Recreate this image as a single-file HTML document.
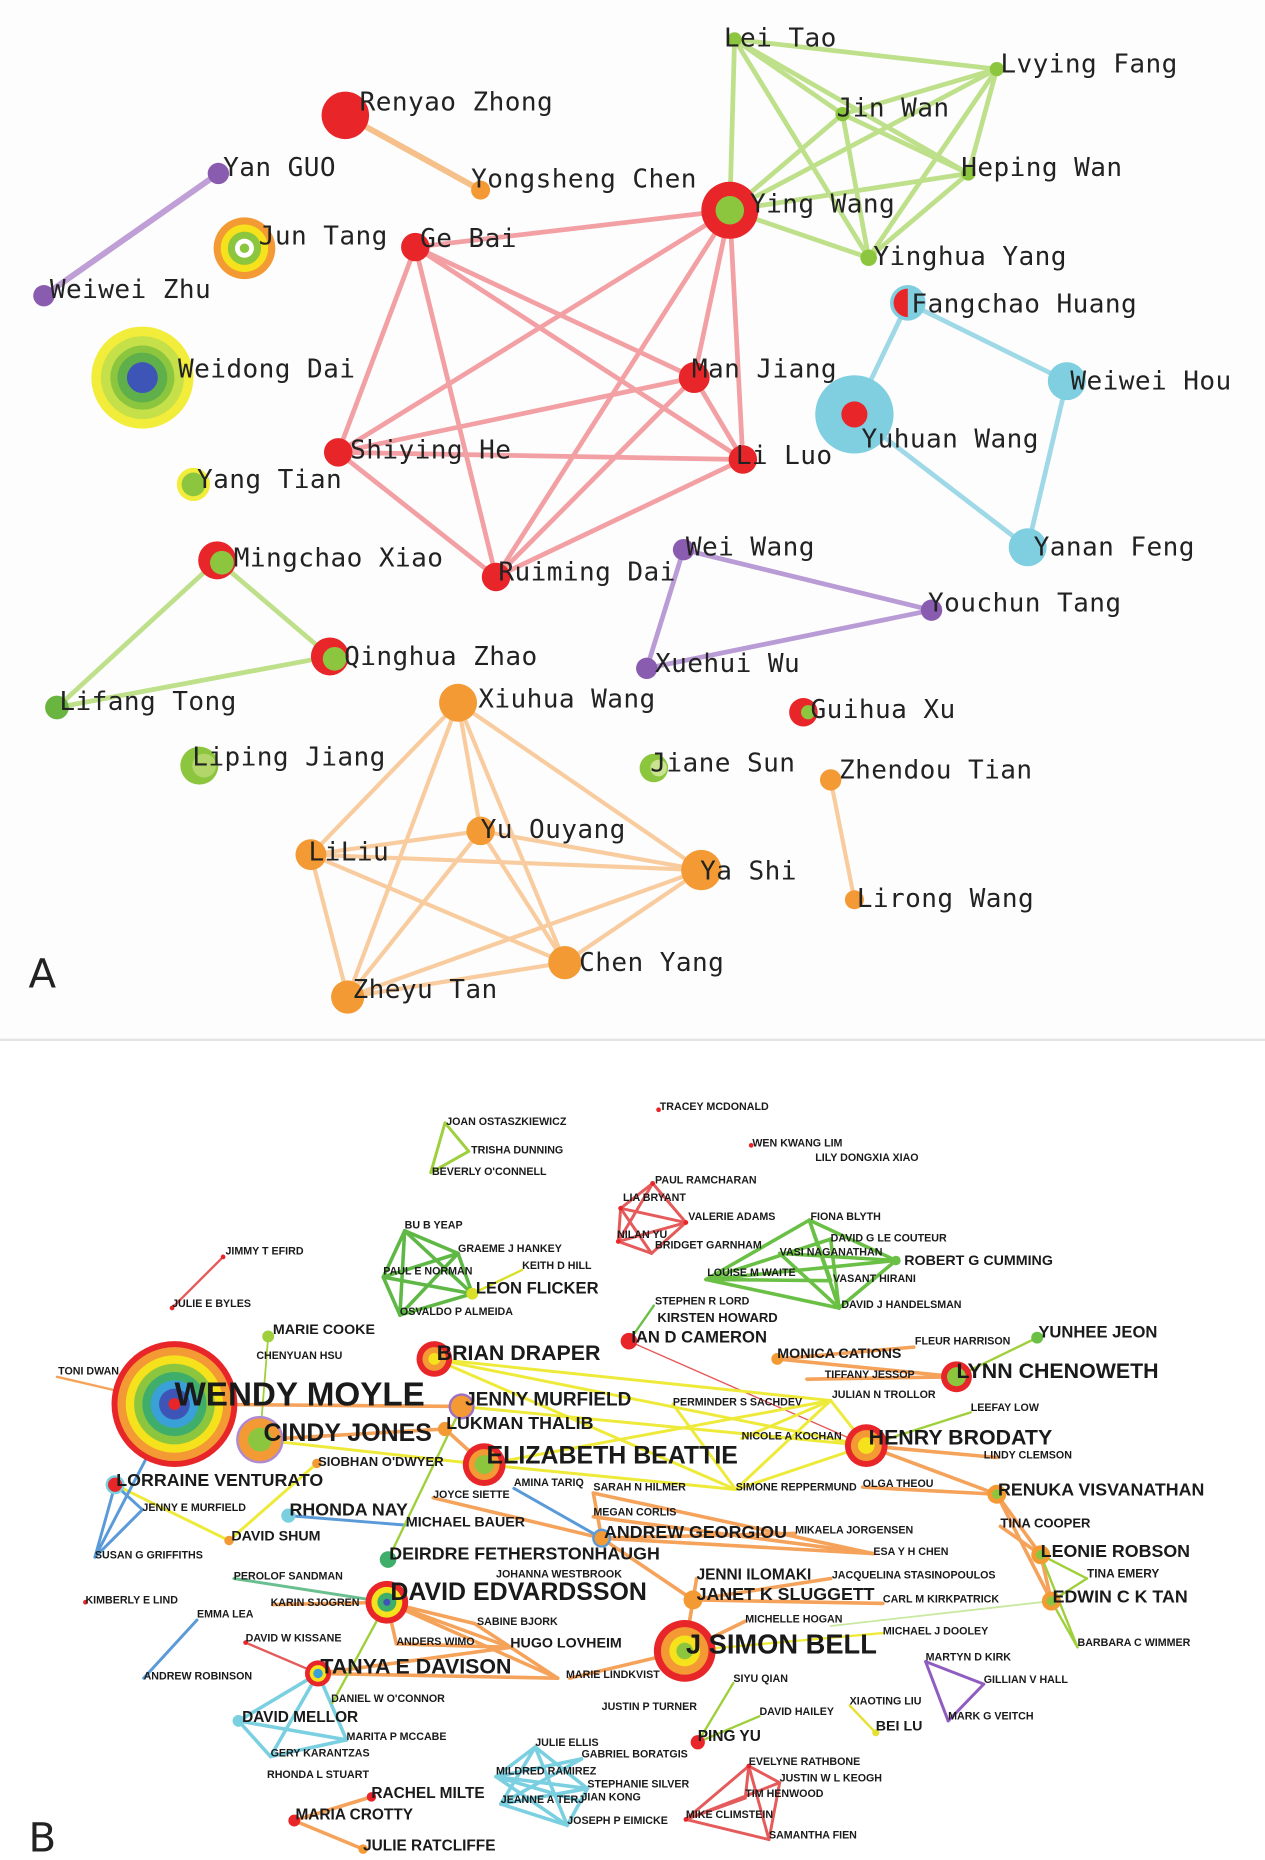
<!DOCTYPE html>
<html><head><meta charset="utf-8">
<style>
html,body{margin:0;padding:0;background:#fff}
svg{display:block}
.a{font-family:"DejaVu Sans Mono","Liberation Mono",monospace;font-size:22px;letter-spacing:0.35px;fill:#222}
.b{font-family:"Liberation Sans Narrow","Liberation Sans",sans-serif;font-weight:bold;fill:#1a1a1a}
.s{font-size:9px}.m{font-size:14px}.l{font-size:18px}.x{font-size:21px}
</style></head><body>
<svg width="1265" height="1860" viewBox="0 0 1066 1567" xmlns="http://www.w3.org/2000/svg">
<rect x="0" y="0" width="1066" height="876" fill="#fdfdfd"/>
<line x1="0" y1="876" x2="1066" y2="876" stroke="#e4e4e4" stroke-width="2"/>
<!-- Panel A edges -->
<g stroke-linecap="round" fill="none">
<line x1="291" y1="97" x2="405" y2="160" stroke="#f6c08a" stroke-width="5"/>
<line x1="184" y1="146" x2="37" y2="249" stroke="#bf9fd6" stroke-width="5"/>
<g stroke="#bfe08a" stroke-width="4">
<line x1="619" y1="33" x2="840" y2="58"/><line x1="619" y1="33" x2="710" y2="96"/><line x1="619" y1="33" x2="816" y2="146"/><line x1="619" y1="33" x2="732" y2="217"/><line x1="619" y1="33" x2="615" y2="177"/>
<line x1="840" y1="58" x2="710" y2="96"/><line x1="840" y1="58" x2="816" y2="146"/><line x1="840" y1="58" x2="732" y2="217"/><line x1="840" y1="58" x2="615" y2="177"/>
<line x1="710" y1="96" x2="816" y2="146"/><line x1="710" y1="96" x2="732" y2="217"/><line x1="710" y1="96" x2="615" y2="177"/>
<line x1="816" y1="146" x2="732" y2="217"/><line x1="816" y1="146" x2="615" y2="177"/><line x1="732" y1="217" x2="615" y2="177"/>
</g>
<g stroke="#f2a0a4" stroke-width="4">
<line x1="615" y1="177" x2="350" y2="208"/><line x1="615" y1="177" x2="585" y2="318"/><line x1="615" y1="177" x2="285" y2="381"/><line x1="615" y1="177" x2="626" y2="387"/><line x1="615" y1="177" x2="418" y2="486"/>
<line x1="350" y1="208" x2="585" y2="318"/><line x1="350" y1="208" x2="285" y2="381"/><line x1="350" y1="208" x2="626" y2="387"/><line x1="350" y1="208" x2="418" y2="486"/>
<line x1="585" y1="318" x2="285" y2="381"/><line x1="585" y1="318" x2="626" y2="387"/><line x1="585" y1="318" x2="418" y2="486"/>
<line x1="285" y1="381" x2="626" y2="387"/><line x1="285" y1="381" x2="418" y2="486"/><line x1="626" y1="387" x2="418" y2="486"/>
</g>
<g stroke="#9fd8e6" stroke-width="4">
<line x1="765" y1="255" x2="899" y2="321"/><line x1="765" y1="255" x2="720" y2="349"/><line x1="720" y1="349" x2="866" y2="461"/><line x1="899" y1="321" x2="866" y2="461"/>
</g>
<g stroke="#b99bd6" stroke-width="4">
<line x1="576" y1="463" x2="785" y2="514"/><line x1="576" y1="463" x2="545" y2="563"/><line x1="545" y1="563" x2="785" y2="514"/>
</g>
<g stroke="#bfe08a" stroke-width="4">
<line x1="183" y1="472" x2="48" y2="596"/><line x1="183" y1="472" x2="278" y2="553"/><line x1="278" y1="553" x2="48" y2="596"/>
</g>
<g stroke="#f8cc9e" stroke-width="3.5">
<line x1="386" y1="592" x2="262" y2="720"/><line x1="386" y1="592" x2="405" y2="700"/><line x1="386" y1="592" x2="591" y2="733"/><line x1="386" y1="592" x2="476" y2="811"/><line x1="386" y1="592" x2="293" y2="840"/>
<line x1="262" y1="720" x2="405" y2="700"/><line x1="262" y1="720" x2="591" y2="733"/><line x1="262" y1="720" x2="476" y2="811"/><line x1="262" y1="720" x2="293" y2="840"/>
<line x1="405" y1="700" x2="591" y2="733"/><line x1="405" y1="700" x2="476" y2="811"/><line x1="405" y1="700" x2="293" y2="840"/>
<line x1="591" y1="733" x2="476" y2="811"/><line x1="591" y1="733" x2="293" y2="840"/><line x1="476" y1="811" x2="293" y2="840"/>
<line x1="700" y1="657" x2="720" y2="758"/>
</g>
</g>
<!-- Panel A nodes -->
<circle cx="291" cy="97" r="20" fill="#e8262a"/>
<circle cx="405" cy="160" r="8" fill="#f39a34"/>
<circle cx="184" cy="146" r="9" fill="#8a5cb0"/>
<circle cx="37" cy="249" r="9" fill="#8a5cb0"/>
<circle cx="206" cy="209" r="26" fill="#f39a34"/><circle cx="206" cy="209" r="20" fill="#f5e21c"/><circle cx="206" cy="209" r="14" fill="#8cc63f"/><circle cx="206" cy="209" r="8" fill="#fff"/><circle cx="206" cy="209" r="4" fill="#8cc63f"/>
<circle cx="120" cy="318" r="43" fill="#f2ec3a"/><circle cx="120" cy="318" r="35" fill="#c6e04a"/><circle cx="120" cy="318" r="27" fill="#8cc63f"/><circle cx="120" cy="318" r="21" fill="#5fb04a"/><circle cx="120" cy="318" r="13" fill="#3e55b8"/>
<circle cx="350" cy="208" r="12" fill="#e8262a"/>
<circle cx="615" cy="177" r="24" fill="#e8262a"/><circle cx="615" cy="177" r="12" fill="#8cc63f"/>
<circle cx="619" cy="33" r="6" fill="#8cc63f"/><circle cx="840" cy="58" r="6" fill="#8cc63f"/><circle cx="710" cy="96" r="6" fill="#8cc63f"/><circle cx="816" cy="146" r="6" fill="#8cc63f"/><circle cx="732" cy="217" r="7" fill="#8cc63f"/>
<circle cx="765" cy="255" r="15" fill="#7fcfe0"/><path d="M765 243 A12 12 0 0 0 765 267 Z" fill="#e8262a"/>
<circle cx="899" cy="321" r="16" fill="#7fcfe0"/>
<circle cx="720" cy="349" r="33" fill="#7fcfe0"/><circle cx="720" cy="349" r="11" fill="#e8262a"/>
<circle cx="866" cy="461" r="16" fill="#7fcfe0"/>
<circle cx="585" cy="318" r="13" fill="#e8262a"/>
<circle cx="285" cy="381" r="12" fill="#e8262a"/>
<circle cx="626" cy="387" r="12" fill="#e8262a"/>
<circle cx="163" cy="408" r="14" fill="#f2ec3a"/><circle cx="163" cy="408" r="10" fill="#8cc63f"/>
<circle cx="183" cy="472" r="16" fill="#e8262a"/><circle cx="187" cy="474" r="10" fill="#8cc63f"/>
<circle cx="418" cy="486" r="12" fill="#e8262a"/>
<circle cx="576" cy="463" r="9" fill="#8a5cb0"/><circle cx="785" cy="514" r="9" fill="#8a5cb0"/><circle cx="545" cy="563" r="9" fill="#8a5cb0"/>
<circle cx="278" cy="553" r="16" fill="#e8262a"/><circle cx="282" cy="555" r="10" fill="#8cc63f"/>
<circle cx="48" cy="596" r="10" fill="#6ab440"/>
<circle cx="386" cy="592" r="16" fill="#f39a34"/>
<circle cx="168" cy="645" r="16" fill="#8cc63f"/><circle cx="172" cy="645" r="10" fill="#b2d66a"/>
<circle cx="677" cy="600" r="12" fill="#e8262a"/><circle cx="681" cy="600" r="6" fill="#8cc63f"/>
<circle cx="551" cy="647" r="12" fill="#8cc63f"/><circle cx="555" cy="647" r="7" fill="#c9e38f"/>
<circle cx="700" cy="657" r="9" fill="#f39a34"/>
<circle cx="405" cy="700" r="12" fill="#f39a34"/><circle cx="262" cy="720" r="13" fill="#f39a34"/><circle cx="591" cy="733" r="17" fill="#f39a34"/><circle cx="476" cy="811" r="14" fill="#f39a34"/><circle cx="293" cy="840" r="14" fill="#f39a34"/><circle cx="720" cy="758" r="8" fill="#f39a34"/>
<!-- Panel A labels -->
<g class="a">
<text x="303" y="93">Renyao Zhong</text><text x="397" y="158">Yongsheng Chen</text><text x="188" y="148">Yan GUO</text><text x="42" y="251">Weiwei Zhu</text>
<text x="218" y="206">Jun Tang</text><text x="150" y="318">Weidong Dai</text><text x="354" y="208">Ge Bai</text><text x="632" y="179">Ying Wang</text>
<text x="610" y="39">Lei Tao</text><text x="843" y="61">Lvying Fang</text><text x="705" y="98">Jin Wan</text><text x="810" y="148">Heping Wan</text><text x="736" y="223">Yinghua Yang</text>
<text x="768" y="263">Fangchao Huang</text><text x="902" y="328">Weiwei Hou</text><text x="726" y="377">Yuhuan Wang</text><text x="871" y="468">Yanan Feng</text>
<text x="583" y="318">Man Jiang</text><text x="295" y="386">Shiying He</text><text x="620" y="391">Li Luo</text><text x="166" y="411">Yang Tian</text>
<text x="197" y="477">Mingchao Xiao</text><text x="420" y="489">Ruiming Dai</text><text x="578" y="468">Wei Wang</text><text x="782" y="515">Youchun Tang</text>
<text x="552" y="566">Xuehui Wu</text><text x="290" y="560">Qinghua Zhao</text><text x="50" y="598">Lifang Tong</text><text x="403" y="596">Xiuhua Wang</text>
<text x="162" y="645">Liping Jiang</text><text x="683" y="605">Guihua Xu</text><text x="548" y="650">Jiane Sun</text><text x="707" y="656">Zhendou Tian</text>
<text x="405" y="706">Yu Ouyang</text><text x="260" y="725">LiLiu</text><text x="590" y="741">Ya Shi</text><text x="488" y="818">Chen Yang</text><text x="297" y="841">Zheyu Tan</text><text x="722" y="764">Lirong Wang</text>
</g>
<text x="24" y="832" font-family="DejaVu Sans,Liberation Sans,sans-serif" font-size="34" fill="#222">A</text>

<!-- Panel B edges -->
<g stroke-linecap="round" fill="none">
<g stroke="#9fcf3a" stroke-width="2.5"><line x1="375" y1="946" x2="395" y2="970"/><line x1="375" y1="946" x2="363" y2="988"/><line x1="395" y1="970" x2="363" y2="988"/></g>
<g stroke="#e55a5a" stroke-width="2.5"><line x1="550" y1="997" x2="523" y2="1018"/><line x1="550" y1="997" x2="578" y2="1030"/><line x1="523" y1="1018" x2="578" y2="1030"/><line x1="523" y1="1018" x2="521" y2="1046"/><line x1="523" y1="1018" x2="549" y2="1056"/><line x1="578" y1="1030" x2="521" y2="1046"/><line x1="578" y1="1030" x2="549" y2="1056"/><line x1="521" y1="1046" x2="549" y2="1056"/><line x1="550" y1="997" x2="521" y2="1046"/></g>
<g stroke="#6abf45" stroke-width="3"><line x1="682" y1="1028" x2="755" y2="1062"/><line x1="682" y1="1028" x2="595" y2="1078"/><line x1="682" y1="1028" x2="707" y2="1102"/><line x1="682" y1="1028" x2="700" y2="1079"/><line x1="755" y1="1062" x2="595" y2="1078"/><line x1="755" y1="1062" x2="707" y2="1102"/><line x1="755" y1="1062" x2="657" y2="1056"/><line x1="595" y1="1078" x2="707" y2="1102"/><line x1="595" y1="1078" x2="700" y2="1079"/><line x1="657" y1="1056" x2="707" y2="1102"/><line x1="700" y1="1044" x2="595" y2="1078"/><line x1="700" y1="1044" x2="707" y2="1102"/></g>
<g stroke="#5fb845" stroke-width="3"><line x1="341" y1="1037" x2="323" y2="1076"/><line x1="341" y1="1037" x2="398" y2="1090"/><line x1="341" y1="1037" x2="337" y2="1108"/><line x1="341" y1="1037" x2="386" y2="1056"/><line x1="323" y1="1076" x2="398" y2="1090"/><line x1="323" y1="1076" x2="337" y2="1108"/><line x1="386" y1="1056" x2="398" y2="1090"/><line x1="386" y1="1056" x2="337" y2="1108"/><line x1="398" y1="1090" x2="337" y2="1108"/><line x1="386" y1="1056" x2="323" y2="1076"/></g>
<line x1="398" y1="1090" x2="440" y2="1070" stroke="#d8e02a" stroke-width="2"/>
<line x1="188" y1="1059" x2="145" y2="1102" stroke="#e55a5a" stroke-width="2"/>
<line x1="551" y1="1100" x2="530" y2="1130" stroke="#6abf45" stroke-width="2"/>
<line x1="530" y1="1130" x2="730" y2="1218" stroke="#e55a5a" stroke-width="1.2"/>
<line x1="226" y1="1126" x2="219" y2="1213" stroke="#9fcf3a" stroke-width="1.5"/>
<line x1="48" y1="1160" x2="147" y2="1183" stroke="#f5a25a" stroke-width="2"/>
<g stroke="#eeea3a" stroke-width="2.5">
<line x1="366" y1="1145" x2="730" y2="1218"/><line x1="366" y1="1145" x2="700" y2="1180"/><line x1="366" y1="1145" x2="620" y2="1255"/><line x1="408" y1="1234" x2="700" y2="1180"/><line x1="408" y1="1234" x2="620" y2="1255"/><line x1="700" y1="1180" x2="620" y2="1255"/><line x1="700" y1="1180" x2="730" y2="1218"/><line x1="620" y1="1255" x2="730" y2="1218"/><line x1="567" y1="1183" x2="620" y2="1255"/><line x1="625" y1="1212" x2="700" y2="1180"/><line x1="219" y1="1213" x2="408" y2="1234"/><line x1="389" y1="1185" x2="730" y2="1218"/><line x1="97" y1="1251" x2="193" y2="1298"/><line x1="267" y1="1233" x2="193" y2="1298"/>
</g>
<g stroke="#f5a25a" stroke-width="3">
<line x1="147" y1="1183" x2="389" y2="1185"/><line x1="219" y1="1213" x2="375" y2="1204"/><line x1="375" y1="1204" x2="408" y2="1234"/><line x1="655" y1="1145" x2="806" y2="1160"/><line x1="655" y1="1145" x2="770" y2="1135"/><line x1="680" y1="1162" x2="806" y2="1160"/><line x1="730" y1="1218" x2="840" y2="1228"/><line x1="730" y1="1218" x2="840" y2="1259"/><line x1="727" y1="1253" x2="840" y2="1259"/><line x1="840" y1="1259" x2="877" y2="1310"/><line x1="840" y1="1259" x2="886" y2="1349"/><line x1="877" y1="1310" x2="886" y2="1349"/><line x1="843" y1="1286" x2="877" y2="1310"/>
<line x1="365" y1="1262" x2="507" y2="1296"/><line x1="500" y1="1258" x2="507" y2="1296"/><line x1="500" y1="1258" x2="736" y2="1309"/><line x1="507" y1="1296" x2="736" y2="1309"/><line x1="500" y1="1278" x2="736" y2="1309"/><line x1="507" y1="1296" x2="670" y2="1292"/><line x1="507" y1="1296" x2="584" y2="1348"/><line x1="584" y1="1348" x2="577" y2="1391"/><line x1="584" y1="1348" x2="744" y2="1351"/><line x1="587" y1="1330" x2="577" y2="1391"/><line x1="584" y1="1348" x2="700" y2="1330"/><line x1="577" y1="1391" x2="628" y2="1366"/><line x1="577" y1="1391" x2="480" y2="1414"/>
<line x1="326" y1="1350" x2="470" y2="1414"/><line x1="326" y1="1350" x2="430" y2="1388"/><line x1="326" y1="1350" x2="400" y2="1368"/><line x1="326" y1="1350" x2="334" y2="1385"/><line x1="400" y1="1368" x2="470" y2="1414"/><line x1="334" y1="1385" x2="430" y2="1388"/><line x1="268" y1="1410" x2="470" y2="1414"/><line x1="268" y1="1410" x2="430" y2="1388"/><line x1="326" y1="1350" x2="230" y2="1352"/>
<line x1="313" y1="1514" x2="248" y2="1534"/><line x1="248" y1="1534" x2="306" y2="1558"/>
</g>
<g stroke="#5a9ad8" stroke-width="2.5"><line x1="97" y1="1251" x2="80" y2="1312"/><line x1="97" y1="1251" x2="120" y2="1272"/><line x1="120" y1="1272" x2="80" y2="1312"/><line x1="147" y1="1183" x2="80" y2="1312"/><line x1="166" y1="1365" x2="121" y2="1414"/><line x1="433" y1="1254" x2="507" y2="1296"/><line x1="243" y1="1277" x2="342" y2="1285"/></g>
<line x1="207" y1="1384" x2="268" y2="1410" stroke="#e55a5a" stroke-width="2"/>
<g stroke="#7ad0e0" stroke-width="3"><line x1="268" y1="1410" x2="201" y2="1450"/><line x1="268" y1="1410" x2="228" y2="1480"/><line x1="201" y1="1450" x2="292" y2="1466"/><line x1="201" y1="1450" x2="228" y2="1480"/><line x1="228" y1="1480" x2="292" y2="1466"/><line x1="268" y1="1410" x2="292" y2="1466"/>
<line x1="451" y1="1472" x2="418" y2="1497"/><line x1="451" y1="1472" x2="495" y2="1507"/><line x1="451" y1="1472" x2="422" y2="1520"/><line x1="451" y1="1472" x2="478" y2="1538"/><line x1="490" y1="1482" x2="418" y2="1497"/><line x1="490" y1="1482" x2="422" y2="1520"/><line x1="418" y1="1497" x2="495" y2="1507"/><line x1="418" y1="1497" x2="478" y2="1538"/><line x1="422" y1="1520" x2="495" y2="1507"/><line x1="422" y1="1520" x2="478" y2="1538"/><line x1="495" y1="1507" x2="478" y2="1538"/><line x1="490" y1="1518" x2="418" y2="1497"/></g>
<g stroke="#e55a5a" stroke-width="2.5"><line x1="631" y1="1488" x2="578" y2="1533"/><line x1="631" y1="1488" x2="648" y2="1550"/><line x1="631" y1="1488" x2="657" y2="1502"/><line x1="631" y1="1488" x2="628" y2="1515"/><line x1="657" y1="1502" x2="578" y2="1533"/><line x1="657" y1="1502" x2="648" y2="1550"/><line x1="628" y1="1515" x2="578" y2="1533"/><line x1="578" y1="1533" x2="648" y2="1550"/></g>
<g stroke="#8f5cc0" stroke-width="2.5"><line x1="780" y1="1400" x2="829" y2="1419"/><line x1="780" y1="1400" x2="799" y2="1450"/><line x1="829" y1="1419" x2="799" y2="1450"/></g>
<g stroke="#9fcf3a" stroke-width="2"><line x1="874" y1="1127" x2="806" y2="1160"/><line x1="818" y1="1190" x2="730" y2="1218"/><line x1="886" y1="1349" x2="916" y2="1330"/><line x1="877" y1="1310" x2="916" y2="1330"/><line x1="886" y1="1349" x2="908" y2="1388"/><line x1="877" y1="1310" x2="908" y2="1388"/><line x1="618" y1="1418" x2="588" y2="1468"/><line x1="640" y1="1446" x2="588" y2="1468"/><line x1="327" y1="1314" x2="389" y2="1185"/><line x1="326" y1="1350" x2="280" y2="1435"/></g>
<line x1="716" y1="1437" x2="738" y2="1460" stroke="#e8e030" stroke-width="2"/>
<line x1="744" y1="1376" x2="577" y2="1391" stroke="#eeea3a" stroke-width="2"/>
<line x1="886" y1="1349" x2="700" y2="1370" stroke="#c9e8a0" stroke-width="1.5"/>
<line x1="197" y1="1330" x2="326" y2="1350" stroke="#6abf90" stroke-width="2.5"/>
</g>
<!-- Panel B nodes -->
<circle cx="147" cy="1183" r="53" fill="#e8262a"/><circle cx="147" cy="1183" r="48" fill="#f39a34"/><circle cx="147" cy="1183" r="41" fill="#f5e21c"/><circle cx="147" cy="1183" r="34" fill="#8cc63f"/><circle cx="147" cy="1183" r="27" fill="#3fae6a"/><circle cx="147" cy="1183" r="20" fill="#3aa0d8"/><circle cx="147" cy="1183" r="13" fill="#3e55b8"/><circle cx="147" cy="1183" r="5" fill="#e8262a"/>
<g>
<circle cx="219" cy="1213" r="19" fill="#f39a34" stroke="#b08ad0" stroke-width="2"/><circle cx="219" cy="1213" r="10" fill="#8cc63f"/>
<circle cx="366" cy="1145" r="15" fill="#e8262a"/><circle cx="366" cy="1145" r="10" fill="#f39a34"/><circle cx="366" cy="1145" r="5" fill="#f5e21c"/>
<circle cx="389" cy="1185" r="10" fill="#f39a34" stroke="#a070c0" stroke-width="2"/>
<circle cx="375" cy="1204" r="6" fill="#f39a34"/>
<circle cx="408" cy="1234" r="18" fill="#e8262a"/><circle cx="408" cy="1234" r="13" fill="#f39a34"/><circle cx="408" cy="1234" r="8" fill="#8cc63f"/>
<circle cx="730" cy="1218" r="18" fill="#e8262a"/><circle cx="730" cy="1218" r="13" fill="#f39a34"/><circle cx="730" cy="1218" r="7" fill="#f5e21c"/>
<circle cx="806" cy="1160" r="13" fill="#e8262a"/><circle cx="806" cy="1160" r="8" fill="#8cc63f"/>
<circle cx="577" cy="1391" r="26" fill="#e8262a"/><circle cx="577" cy="1391" r="20" fill="#f39a34"/><circle cx="577" cy="1391" r="13" fill="#f5e21c"/><circle cx="577" cy="1391" r="7" fill="#8cc63f"/>
<circle cx="326" cy="1350" r="18" fill="#e8262a"/><circle cx="326" cy="1350" r="13" fill="#f5e21c"/><circle cx="326" cy="1350" r="8" fill="#3fae6a"/><circle cx="326" cy="1350" r="3" fill="#3e55b8"/>
<circle cx="268" cy="1410" r="11" fill="#e8262a"/><circle cx="268" cy="1410" r="7" fill="#f5e21c"/><circle cx="268" cy="1410" r="4" fill="#3aa0d8"/>
<circle cx="530" cy="1130" r="7" fill="#e8262a"/>
<circle cx="97" cy="1251" r="7" fill="#e8262a" stroke="#7ad0e0" stroke-width="2"/>
<circle cx="243" cy="1277" r="6" fill="#7ad0e0"/>
<circle cx="327" cy="1314" r="7" fill="#3fae6a"/>
<circle cx="507" cy="1296" r="7" fill="#f39a34" stroke="#5a9ad8" stroke-width="2"/>
<circle cx="584" cy="1348" r="8" fill="#f39a34"/>
<circle cx="840" cy="1259" r="8" fill="#f39a34"/><circle cx="840" cy="1259" r="4" fill="#8cc63f"/>
<circle cx="877" cy="1310" r="8" fill="#f39a34"/><circle cx="877" cy="1310" r="4" fill="#8cc63f"/>
<circle cx="886" cy="1349" r="8" fill="#f39a34"/><circle cx="886" cy="1349" r="4" fill="#8cc63f"/>
<circle cx="874" cy="1127" r="5" fill="#6abf45"/>
<circle cx="655" cy="1145" r="5" fill="#f39a34"/>
<circle cx="226" cy="1126" r="5" fill="#9fcf3a"/>
<circle cx="398" cy="1090" r="5" fill="#d8e02a"/>
<circle cx="755" cy="1062" r="4" fill="#6abf45"/>
<circle cx="588" cy="1468" r="6" fill="#e8262a"/>
<circle cx="201" cy="1450" r="5" fill="#7ad0e0"/>
<circle cx="248" cy="1534" r="5" fill="#e8262a"/>
<circle cx="313" cy="1514" r="4" fill="#e8262a"/>
<circle cx="306" cy="1558" r="4" fill="#f39a34"/>
<circle cx="193" cy="1298" r="4" fill="#f39a34"/>
<circle cx="267" cy="1233" r="4" fill="#f39a34"/>
<circle cx="738" cy="1460" r="3" fill="#e8e030"/>
</g>
<g fill="#e8262a"><circle cx="555" cy="935" r="2"/><circle cx="633" cy="965" r="2"/><circle cx="550" cy="997" r="2"/><circle cx="523" cy="1018" r="2"/><circle cx="578" cy="1030" r="2"/><circle cx="521" cy="1046" r="2"/><circle cx="188" cy="1059" r="2"/><circle cx="145" cy="1102" r="2"/><circle cx="72" cy="1350" r="2"/><circle cx="207" cy="1384" r="2"/><circle cx="631" cy="1488" r="2"/><circle cx="578" cy="1533" r="2"/></g>
<!-- Panel B labels -->
<g class="b">
<text x="556" y="935" class="s">TRACEY MCDONALD</text>
<text x="376" y="948" class="s">JOAN OSTASZKIEWICZ</text><text x="397" y="972" class="s">TRISHA DUNNING</text><text x="364" y="990" class="s">BEVERLY O'CONNELL</text>
<text x="634" y="966" class="s">WEN KWANG LIM</text><text x="687" y="978" class="s">LILY DONGXIA XIAO</text>
<text x="552" y="997" class="s">PAUL RAMCHARAN</text><text x="525" y="1012" class="s">LIA BRYANT</text><text x="580" y="1028" class="s">VALERIE ADAMS</text><text x="520" y="1043" class="s">NILAN YU</text><text x="552" y="1052" class="s">BRIDGET GARNHAM</text>
<text x="683" y="1028" class="s">FIONA BLYTH</text><text x="700" y="1046" class="s">DAVID G LE COUTEUR</text><text x="657" y="1058" class="s">VASI NAGANATHAN</text><text x="762" y="1066" font-size="12">ROBERT G CUMMING</text><text x="596" y="1075" class="s">LOUISE M WAITE</text><text x="702" y="1080" class="s">VASANT HIRANI</text><text x="709" y="1102" class="s">DAVID J HANDELSMAN</text>
<text x="341" y="1035" class="s">BU B YEAP</text><text x="386" y="1055" class="s">GRAEME J HANKEY</text><text x="323" y="1074" class="s">PAUL E NORMAN</text><text x="440" y="1069" class="s">KEITH D HILL</text><text x="401" y="1090" class="m">LEON FLICKER</text><text x="337" y="1108" class="s">OSVALDO P ALMEIDA</text>
<text x="190" y="1057" class="s">JIMMY T EFIRD</text><text x="145" y="1101" class="s">JULIE E BYLES</text>
<text x="552" y="1099" class="s">STEPHEN R LORD</text><text x="554" y="1114" font-size="11">KIRSTEN HOWARD</text><text x="532" y="1131" class="m">IAN D CAMERON</text>
<text x="230" y="1124" font-size="12">MARIE COOKE</text><text x="216" y="1145" class="s">CHENYUAN HSU</text><text x="49" y="1158" class="s">TONI DWAN</text>
<text x="147" y="1184" font-size="28">WENDY MOYLE</text>
<text x="368" y="1146" class="l">BRIAN DRAPER</text><text x="392" y="1184" font-size="16">JENNY MURFIELD</text><text x="376" y="1204" font-size="15">LUKMAN THALIB</text>
<text x="222" y="1214" class="x">CINDY JONES</text><text x="268" y="1235" font-size="11">SIOBHAN O'DWYER</text><text x="410" y="1233" class="x">ELIZABETH BEATTIE</text>
<text x="98" y="1252" font-size="15">LORRAINE VENTURATO</text><text x="120" y="1273" class="s">JENNY E MURFIELD</text><text x="244" y="1277" font-size="15">RHONDA NAY</text>
<text x="195" y="1298" font-size="12">DAVID SHUM</text><text x="80" y="1313" class="s">SUSAN G GRIFFITHS</text><text x="342" y="1286" font-size="12">MICHAEL BAUER</text>
<text x="328" y="1314" font-size="15">DEIRDRE FETHERSTONHAUGH</text><text x="433" y="1252" class="s">AMINA TARIQ</text><text x="365" y="1262" class="s">JOYCE SIETTE</text>
<text x="500" y="1256" class="s">SARAH N HILMER</text><text x="500" y="1277" class="s">MEGAN CORLIS</text><text x="509" y="1296" font-size="15">ANDREW GEORGIOU</text>
<text x="670" y="1292" class="s">MIKAELA JORGENSEN</text><text x="736" y="1310" class="s">ESA Y H CHEN</text><text x="567" y="1184" class="s">PERMINDER S SACHDEV</text>
<text x="655" y="1144" font-size="12">MONICA CATIONS</text><text x="771" y="1133" class="s">FLEUR HARRISON</text><text x="875" y="1127" font-size="14">YUNHEE JEON</text>
<text x="806" y="1161" class="l">LYNN CHENOWETH</text><text x="695" y="1161" class="s">TIFFANY JESSOP</text><text x="701" y="1178" class="s">JULIAN N TROLLOR</text>
<text x="818" y="1189" class="s">LEEFAY LOW</text><text x="625" y="1213" class="s">NICOLE A KOCHAN</text><text x="732" y="1217" class="l">HENRY BRODATY</text>
<text x="829" y="1229" class="s">LINDY CLEMSON</text><text x="620" y="1256" class="s">SIMONE REPPERMUND</text><text x="727" y="1253" class="s">OLGA THEOU</text>
<text x="841" y="1260" font-size="15">RENUKA VISVANATHAN</text><text x="843" y="1287" font-size="11">TINA COOPER</text><text x="877" y="1312" font-size="15">LEONIE ROBSON</text>
<text x="916" y="1329" font-size="10">TINA EMERY</text><text x="887" y="1350" font-size="15">EDWIN C K TAN</text><text x="908" y="1387" class="s">BARBARA C WIMMER</text>
<text x="587" y="1331" font-size="13">JENNI ILOMAKI</text><text x="701" y="1330" class="s">JACQUELINA STASINOPOULOS</text><text x="418" y="1329" class="s">JOHANNA WESTBROOK</text>
<text x="329" y="1348" class="x">DAVID EDVARDSSON</text><text x="587" y="1348" font-size="15">JANET K SLUGGETT</text><text x="744" y="1350" class="s">CARL M KIRKPATRICK</text>
<text x="197" y="1331" class="s">PEROLOF SANDMAN</text><text x="228" y="1353" class="s">KARIN SJOGREN</text><text x="72" y="1351" class="s">KIMBERLY E LIND</text><text x="166" y="1363" class="s">EMMA LEA</text>
<text x="628" y="1367" class="s">MICHELLE HOGAN</text><text x="402" y="1369" class="s">SABINE BJORK</text><text x="744" y="1377" class="s">MICHAEL J DOOLEY</text>
<text x="578" y="1393" font-size="23">J SIMON BELL</text><text x="207" y="1383" class="s">DAVID W KISSANE</text><text x="334" y="1386" class="s">ANDERS WIMO</text><text x="430" y="1388" font-size="12">HUGO LOVHEIM</text>
<text x="270" y="1410" class="l">TANYA E DAVISON</text><text x="477" y="1414" class="s">MARIE LINDKVIST</text><text x="121" y="1415" class="s">ANDREW ROBINSON</text>
<text x="780" y="1399" class="s">MARTYN D KIRK</text><text x="829" y="1418" class="s">GILLIAN V HALL</text><text x="799" y="1449" class="s">MARK G VEITCH</text>
<text x="618" y="1417" class="s">SIYU QIAN</text><text x="716" y="1436" class="s">XIAOTING LIU</text><text x="279" y="1434" class="s">DANIEL W O'CONNOR</text><text x="507" y="1441" class="s">JUSTIN P TURNER</text>
<text x="640" y="1445" class="s">DAVID HAILEY</text><text x="204" y="1451" font-size="13">DAVID MELLOR</text><text x="738" y="1458" font-size="12">BEI LU</text><text x="292" y="1466" class="s">MARITA P MCCABE</text>
<text x="588" y="1467" font-size="13">PING YU</text><text x="228" y="1480" class="s">GERY KARANTZAS</text><text x="451" y="1471" class="s">JULIE ELLIS</text><text x="490" y="1481" class="s">GABRIEL BORATGIS</text>
<text x="631" y="1487" class="s">EVELYNE RATHBONE</text><text x="225" y="1498" class="s">RHONDA L STUART</text><text x="657" y="1501" class="s">JUSTIN W L KEOGH</text><text x="418" y="1495" class="s">MILDRED RAMIREZ</text>
<text x="495" y="1506" class="s">STEPHANIE SILVER</text><text x="628" y="1514" class="s">TIM HENWOOD</text><text x="313" y="1515" font-size="13">RACHEL MILTE</text><text x="422" y="1519" class="s">JEANNE A TERJ</text><text x="490" y="1517" class="s">JIAN KONG</text>
<text x="249" y="1533" font-size="13">MARIA CROTTY</text><text x="578" y="1532" class="s">MIKE CLIMSTEIN</text><text x="478" y="1537" class="s">JOSEPH P EIMICKE</text><text x="648" y="1549" class="s">SAMANTHA FIEN</text>
<text x="306" y="1559" font-size="13">JULIE RATCLIFFE</text>
</g>
<text x="24" y="1560" font-family="DejaVu Sans,Liberation Sans,sans-serif" font-size="34" fill="#222">B</text>
</svg>
</body></html>
